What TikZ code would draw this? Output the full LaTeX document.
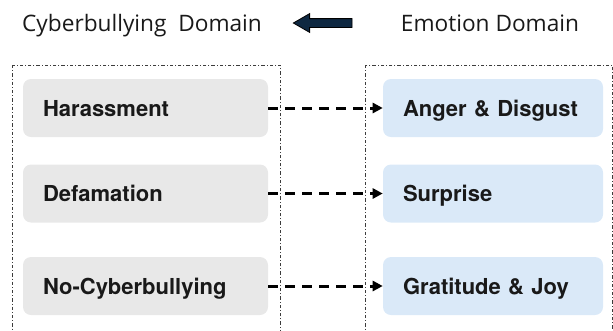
\documentclass[tikz,border=0pt]{standalone}
\usepackage{fontspec}
\setmainfont{Open Sans}
\newfontfamily\boxfont{TeX Gyre Heros}
\usepackage{xcolor}
\usepackage{tikz}
\usetikzlibrary{arrows.meta,shapes.arrows}
\definecolor{cbgrey}{RGB}{232,232,232}
\definecolor{emoblue}{RGB}{218,233,248}
\definecolor{domainnavy}{RGB}{14,40,65}
\definecolor{frameink}{RGB}{60,60,60}
\hyphenpenalty=10000

\begin{document}
\begin{tikzpicture}[x=0.75pt,y=-0.75pt,
    domtitle/.style={font=\fontsize{17}{20}\selectfont,text=black!90,inner sep=0pt},
    cbbox/.style={fill=cbgrey,rounded corners=6pt,text width=153.75pt,align=left,
        inner xsep=15pt,minimum height=43.5pt,text height=12pt,text depth=0pt,
        font=\boxfont\fontsize{16.5}{20}\selectfont\bfseries,text=black!90},
    emobox/.style={cbbox,fill=emoblue,text width=135pt},
    domframe/.style={draw=frameink,line width=0.75pt,
        dash pattern=on 2.5pt off 1.5pt on 0.75pt off 1.5pt},
    mapline/.style={line width=2.25pt,dash pattern=on 7.5pt off 5.25pt,
        -{Triangle[length=7.5pt,width=7.5pt]}},
    domarrow/.style={single arrow,shape border rotate=180,fill=domainnavy,draw=black,
        line width=0.6pt,minimum height=44pt,inner xsep=0pt,inner ysep=3pt,
        single arrow head extend=3.75pt,single arrow tip angle=60}]
    \useasboundingbox (0,0) rectangle (613,330);
    % headings
    \node[domtitle,anchor=base] (cbtitle) at (142,31) {Cyberbullying\ \ Domain};
    \node[domtitle,anchor=base] (emtitle) at (490,31) {Emotion Domain};
    \node[domarrow] (dirarrow) at (326.5,23) {};
    % dash-dot frames
    \draw[domframe] (12,65) rectangle (280,340);
    \draw[domframe] (365,65) rectangle (612,340);
    % cyberbullying classes
    \node[cbbox] (harass) at (145.5,108) {Harassment};
    \node[cbbox] (defam) at (145.5,193.5) {Defamation};
    \node[cbbox] (nocb) at (145.5,286) {No-Cyberbullying};
    % emotion classes
    \node[emobox] (anger) at (493,108) {Anger \& Disgust};
    \node[emobox] (surpr) at (493,193.5) {Surprise};
    \node[emobox] (joy) at (493,286) {Gratitude \& Joy};
    % mapping
    \draw[mapline] (harass.east) -- (anger.west);
    \draw[mapline] (defam.east) -- (surpr.west);
    \draw[mapline] (nocb.east) -- (joy.west);
\end{tikzpicture}
\end{document}
